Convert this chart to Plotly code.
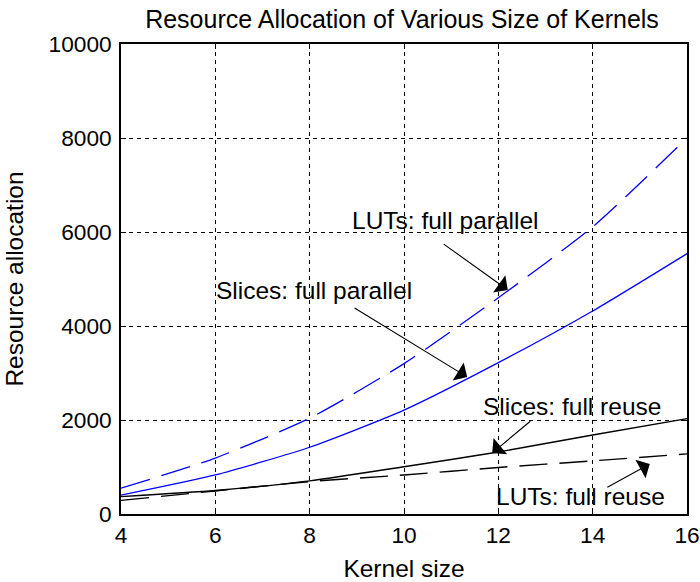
import plotly.graph_objects as go

kernel_size = [4, 6, 8, 10, 12, 14, 16]
luts_full_parallel = [550, 1190, 2040, 3200, 4600, 6110, 8000]
slices_full_parallel = [400, 830, 1420, 2210, 3220, 4320, 5540]
slices_full_reuse = [370, 500, 705, 1005, 1320, 1680, 2030]
luts_full_reuse = [290, 490, 690, 830, 990, 1130, 1280]

x_ticks = [4, 6, 8, 10, 12, 14, 16]
y_ticks = [0, 2000, 4000, 6000, 8000, 10000]

FONT = "Liberation Sans, Arial, sans-serif"

fig = go.Figure()
fig.add_trace(go.Scatter(x=kernel_size, y=luts_full_parallel, mode="lines",
                         line=dict(color="#0000FF", width=1.3, dash="30px,12px", shape="spline", smoothing=0.6),
                         name="LUTs: full parallel"))
fig.add_trace(go.Scatter(x=kernel_size, y=slices_full_parallel, mode="lines",
                         line=dict(color="#0000FF", width=1.3, shape="spline", smoothing=0.6),
                         name="Slices: full parallel"))
fig.add_trace(go.Scatter(x=kernel_size, y=slices_full_reuse, mode="lines",
                         line=dict(color="black", width=1.4, shape="spline", smoothing=0.6),
                         name="Slices: full reuse"))
fig.add_trace(go.Scatter(x=kernel_size, y=luts_full_reuse, mode="lines",
                         line=dict(color="black", width=1.4, dash="28px,12px", shape="spline", smoothing=0.6),
                         name="LUTs: full reuse"))

# annotations: (text, text_x, text_y, tail_x, tail_y, head_x, head_y)
labels = [
    ("LUTs: full parallel", 10.89, 6255, 10.81, 5766, 12.20, 4766),
    ("Slices: full parallel", 8.10, 4766, 8.92, 4404, 11.34, 2915),
    ("Slices: full reuse", 13.57, 2277, 12.71, 2000, 11.87, 1298),
    ("LUTs: full reuse", 13.74, 362, 14.28, 553, 15.21, 1064),
]
for txt, tx, ty, ax_, ay_, hx, hy in labels:
    fig.add_annotation(x=tx, y=ty, xref="x", yref="y", text=txt, showarrow=False,
                       font=dict(family=FONT, size=24.5, color="black"),
                       xanchor="center", yanchor="middle")
    fig.add_annotation(x=hx, y=hy, xref="x", yref="y", ax=ax_, ay=ay_, axref="x", ayref="y",
                       text="", showarrow=True, arrowhead=1, arrowsize=3.2, arrowwidth=1.1,
                       arrowcolor="black")

axis_common = dict(
    showline=True, linecolor="black", linewidth=1.5, mirror="ticks",
    ticks="inside", ticklen=5, tickcolor="black", tickwidth=1,
    showgrid=True, gridcolor="black", gridwidth=1, griddash="4px,4px",
    zeroline=False,
    tickfont=dict(family=FONT, size=22.7, color="black"),
)

fig.update_xaxes(range=[4, 16], tickvals=x_ticks, ticktext=[str(v) for v in x_ticks],
                 title=dict(text="Kernel size", font=dict(family=FONT, size=24.5, color="black"), standoff=19),
                 **axis_common)
fig.update_yaxes(range=[0, 10000], tickvals=y_ticks, ticktext=[str(v) for v in y_ticks],
                 ticklabelstandoff=3,
                 title=dict(text="Resource allocation", font=dict(family=FONT, size=24.5, color="black"), standoff=18),
                 **axis_common)

fig.update_layout(
    width=700, height=582,
    margin=dict(l=121, r=13, t=44, b=68, autoexpand=False),
    paper_bgcolor="white", plot_bgcolor="white",
    showlegend=False,
    title=dict(text="Resource Allocation of Various Size of Kernels",
               font=dict(family=FONT, size=25, color="black"),
               x=402 / 700, xanchor="center", xref="container",
               y=1 - 19 / 582, yanchor="middle", yref="container"),
)

fig.write_html(
    "out.html",
    config={"displayModeBar": False},
    post_script="document.body.style.margin='0';document.body.style.overflow='hidden';",
)
